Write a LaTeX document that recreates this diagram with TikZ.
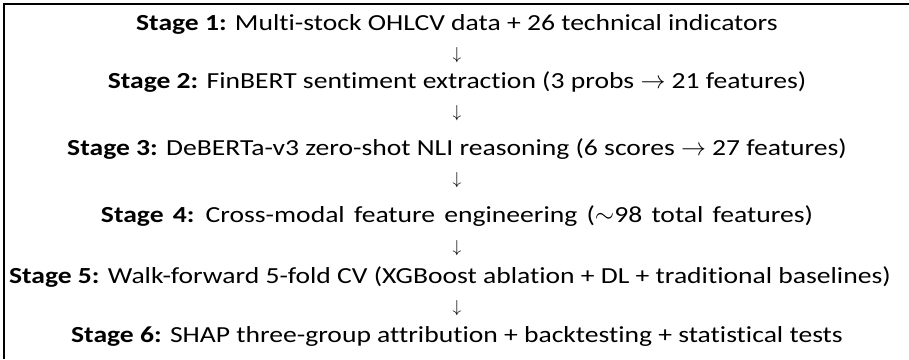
\documentclass[tikz,border=0pt]{standalone}
\usepackage{fontspec}
\setmainfont{Carlito}[FakeStretch=1.2, Ligatures=NoCommon]
\begin{document}
\begin{tikzpicture}[x=1pt,y=-1pt,
  stage/.style={inner sep=0pt, anchor=base, font=\fontsize{23}{27}\selectfont},
  arr/.style={inner sep=0pt, anchor=center, font=\fontsize{18}{20}\selectfont}]
\useasboundingbox (0,0) rectangle (909,359);
\draw[line width=1.3pt] (4,359) -- (4,4) -- (909,4);
\node[stage] (s1) at (457,30) {\textbf{Stage 1:} Multi-stock OHLCV data + 26 technical indicators};
\node[arr] (a1) at (457,55) {$\downarrow$};
\node[stage] (s2) at (457,88) {\textbf{Stage 2:} FinBERT sentiment extraction (3 probs $\rightarrow$ 21 features)};
\node[arr] (a2) at (457,113) {$\downarrow$};
\node[stage] (s3) at (457,155) {\textbf{Stage 3:} DeBERTa-v3 zero-shot NLI reasoning (6 scores $\rightarrow$ 27 features)};
\node[arr] (a3) at (457,180) {$\downarrow$};
\node[stage] (s4) at (457,222) {\spaceskip=0.4em\relax\textbf{Stage 4:} Cross-modal feature engineering (${\sim}$98 total features)};
\node[arr] (a4) at (457,248) {$\downarrow$};
\node[stage] (s5) at (450,283) {\textbf{Stage 5:} Walk-forward 5-fold CV (XGBoost ablation + DL + traditional baselines)};
\node[arr] (a5) at (457,308) {$\downarrow$};
\node[stage] (s6) at (457,342) {\textbf{Stage 6:} SHAP three-group attribution + backtesting + statistical tests};
\end{tikzpicture}
\end{document}
